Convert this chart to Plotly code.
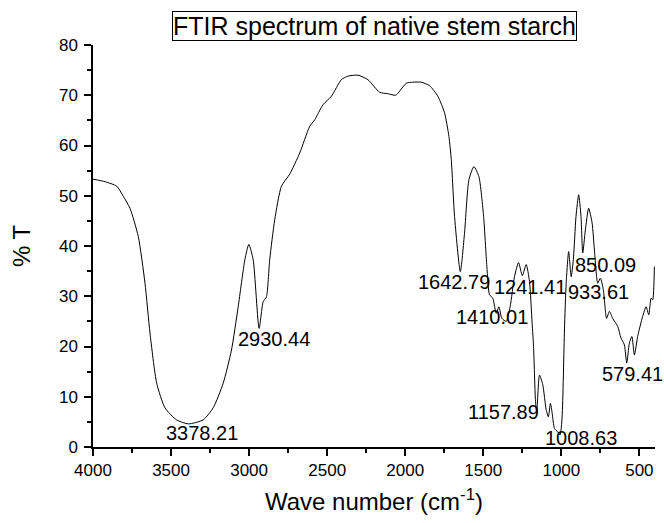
import plotly.graph_objects as go

wavenumber = [4000, 3923, 3848, 3806, 3763, 3710, 3667, 3635, 3592, 3539, 3465, 3390, 3294, 3230, 3166, 3113,
              3070, 3027, 3002, 2974, 2936, 2910, 2889, 2868, 2836, 2793, 2740, 2676, 2612, 2580,
              2527, 2473, 2409, 2367, 2303, 2239, 2164, 2111, 2061, 2036, 1993, 1951, 1897, 1844,
              1791, 1748, 1720, 1705, 1684, 1647, 1620, 1592, 1560, 1528, 1498, 1477, 1460, 1439,
              1417, 1400, 1381, 1353, 1328, 1300, 1274, 1250, 1225, 1204, 1187, 1178, 1166, 1158,
              1140, 1119, 1097, 1083, 1070, 1059, 1044, 1023, 1008, 995, 980, 969, 953, 937, 923,
              906, 889, 874, 863, 846, 825, 803, 788, 767, 750, 731, 710, 692, 671, 639, 618, 596,
              581, 564, 548, 532, 511, 479, 457, 440, 425, 415, 404]
transmittance = [53.3, 52.8, 51.9, 49.9, 47.5, 41.9, 32.6, 22.7, 12.7, 7.8, 5.4, 4.6, 5.4, 7.8, 12.7, 19.3,
                 27.9, 37.3, 40.3, 37.3, 23.6, 28.9, 29.9, 37.3, 45.2, 51.9, 54.3, 58.5, 63.8, 65.1,
                 68.1, 69.8, 73.1, 73.8, 74.0, 73.1, 70.6, 70.3, 70.0, 70.8, 72.4, 72.6, 72.6, 71.9,
                 69.8, 66.5, 61.8, 57.2, 45.9, 34.9, 42.6, 53.2, 55.8, 53.8, 45.9, 35.9, 30.3, 29.6,
                 26.6, 27.9, 25.6, 25.0, 27.9, 33.9, 36.7, 34.1, 36.3, 32.9, 24.6, 20.0, 9.4, 6.8,
                 14.3, 12.4, 7.4, 6.0, 8.7, 6.8, 3.7, 3.0, 2.4, 6.0, 23.3, 32.6, 38.9, 33.9, 37.3,
                 45.9, 50.2, 45.9, 38.6, 43.2, 47.5, 44.6, 39.2, 32.6, 33.6, 31.3, 25.6, 27.0, 25.6,
                 24.0, 21.7, 20.3, 16.7, 20.7, 22.0, 18.3, 22.0, 26.0, 27.9, 26.3, 29.6, 29.3, 35.9]

peak_labels = ["3378.21", "2930.44", "1642.79", "1410.01", "1241.41", "1157.89",
               "1008.63", "933.61", "850.09", "579.41"]
label_x = [3300, 2842, 1690, 1442, 1198, 1370, 871, 760, 718, 545]
label_y = [2.8, 21.5, 32.8, 25.9, 31.8, 7.0, 1.8, 30.8, 36.3, 14.5]

x_ticks = [4000, 3500, 3000, 2500, 2000, 1500, 1000, 500]
y_ticks = [0, 10, 20, 30, 40, 50, 60, 70, 80]

FONT = "Liberation Sans, Arial, sans-serif"

fig = go.Figure()
fig.add_trace(go.Scatter(
    x=wavenumber, y=transmittance, mode="lines",
    line=dict(color="black", width=1, shape="spline", smoothing=0.6),
    showlegend=False, hoverinfo="skip"))

for t, xv, yv in zip(peak_labels, label_x, label_y):
    fig.add_annotation(x=xv, y=yv, text=t, showarrow=False,
                       font=dict(family=FONT, size=20, color="black"))

fig.add_annotation(xref="paper", yref="paper", x=0.5, y=1.047, text="FTIR spectrum of native stem starch",
                   showarrow=False, font=dict(family=FONT, size=25, color="black"),
                   bordercolor="black", borderwidth=1, borderpad=0, bgcolor="white",
                   xanchor="center", yanchor="middle")

fig.update_layout(
    width=664, height=523, margin=dict(l=93, r=9, t=45, b=76),
    paper_bgcolor="white", plot_bgcolor="white",
    font=dict(family=FONT, color="black", size=17),
    xaxis=dict(range=[4000, 400], tickvals=x_ticks, ticks="outside", ticklen=7, tickwidth=1.5,
               tickcolor="black", showline=True, linecolor="black", linewidth=1.5, showgrid=False,
               zeroline=False, minor=dict(dtick=250, ticks="outside", ticklen=4, tickcolor="black", showgrid=False),
               tickfont=dict(size=17),
               title=dict(text="Wave number (cm<sup>-1</sup>)", font=dict(size=24), standoff=14)),
    yaxis=dict(range=[0, 80], tickvals=y_ticks, ticks="outside", ticklen=7, tickwidth=1.5,
               tickcolor="black", showline=True, linecolor="black", linewidth=1.5, showgrid=False,
               zeroline=False, minor=dict(dtick=5, ticks="outside", ticklen=4, tickcolor="black", showgrid=False),
               tickfont=dict(size=17), ticklabelstandoff=3,
               title=dict(text="% T", font=dict(size=24), standoff=22)),
)

fig.write_html("out.html")
